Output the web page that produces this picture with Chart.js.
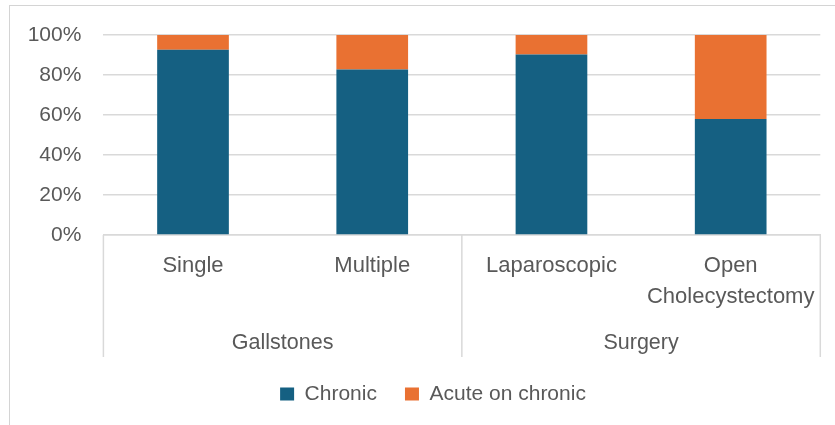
<!DOCTYPE html>
<html>
<head>
<meta charset="utf-8">
<script src="https://cdn.jsdelivr.net/npm/chart.js@4/dist/chart.umd.min.js"></script>
<style>
  html, body { margin: 0; padding: 0; background: #ffffff; overflow: hidden; width: 835px; height: 425px; }
  #frame { position: absolute; left: 9px; top: 5px; width: 846px; height: 440px; border: 1px solid #d4d4d4; background: #ffffff; }
  #frame canvas { display: block; }
</style>
</head>
<body>
<div id="frame"><canvas id="chart" width="846" height="440"></canvas></div>
<script>
// Sub-categories on the x axis, and the groups they belong to
const categories = ['Single', 'Multiple', 'Laparoscopic', ['Open', 'Cholecystectomy']];
const groupLabels = ['Gallstones', 'Surgery'];
const groupSizes = [2, 2];

// Share of cases (%) per category
const chronicValues = [92.6, 82.7, 90.2, 58.0];
const acuteValues = [7.4, 17.3, 9.8, 42.0];

const seriesNames = ['Chronic', 'Acute on chronic'];
const seriesColors = ['#156082', '#E97132'];

const yTicks = [0, 20, 40, 60, 80, 100];

const textColor = '#595959';
const lineColor = '#d9d9d9';
const fontFamily = '"Liberation Sans", Arial, sans-serif';

// Draws the group row under the category labels, with the separators
const groupAxisPlugin = {
  id: 'groupAxis',
  afterDraw(chart) {
    const ctx = chart.ctx;
    const x = chart.scales.x;
    const top = chart.chartArea.bottom;
    const bottom = top + 122;
    const labelY = top + 108;
    const half = (x.getPixelForValue(1) - x.getPixelForValue(0)) / 2;

    ctx.save();
    ctx.strokeStyle = lineColor;
    ctx.lineWidth = 1.5;
    let start = 0;
    const edges = [x.getPixelForValue(0) - half];
    groupSizes.forEach((size, g) => {
      const end = start + size - 1;
      const left = x.getPixelForValue(start) - half;
      const right = x.getPixelForValue(end) + half;
      edges.push(right);
      ctx.fillStyle = textColor;
      ctx.font = '21.5px ' + fontFamily;
      ctx.textAlign = 'center';
      ctx.textBaseline = 'middle';
      ctx.fillText(groupLabels[g], (left + right) / 2, labelY);
      start += size;
    });
    edges.forEach(px => {
      ctx.beginPath();
      ctx.moveTo(px, top);
      ctx.lineTo(px, bottom);
      ctx.stroke();
    });
    ctx.restore();
  }
};

new Chart(document.getElementById('chart'), {
  type: 'bar',
  data: {
    labels: categories,
    datasets: [
      { label: seriesNames[0], data: chronicValues, backgroundColor: seriesColors[0] },
      { label: seriesNames[1], data: acuteValues, backgroundColor: seriesColors[1] }
    ]
  },
  options: {
    responsive: false,
    animation: false,
    events: [],
    layout: { padding: { top: 29, left: 0, right: 0, bottom: 31.5 } },
    datasets: { bar: { categoryPercentage: 1, barPercentage: 0.4 } },
    scales: {
      x: {
        stacked: true,
        grid: { display: false, drawTicks: false },
        border: { display: true, color: lineColor, width: 1.5 },
        ticks: {
          color: textColor,
          font: { family: fontFamily, size: 22, lineHeight: 1.4 },
          padding: 16,
          maxRotation: 0,
          autoSkip: false
        },
        afterFit(scale) { scale.height = 120.5; }
      },
      y: {
        stacked: true,
        min: 0,
        max: 100,
        afterBuildTicks(scale) { scale.ticks = yTicks.map(v => ({ value: v })); },
        grid: { color: lineColor, lineWidth: 1.5, drawTicks: false },
        border: { display: false },
        ticks: {
          color: textColor,
          font: { family: fontFamily, size: 21 },
          padding: 22,
          callback: v => v + '%'
        },
        afterFit(scale) {
          scale.width = 93.4;
          scale.paddingTop = 0;
          scale.paddingBottom = 0;
        }
      },
      yRight: {
        position: 'right',
        display: true,
        grid: { display: false, drawTicks: false },
        border: { display: false },
        ticks: { display: false },
        afterFit(scale) { scale.width = 35.7; }
      }
    },
    plugins: {
      title: { display: false },
      tooltip: { enabled: false },
      legend: {
        position: 'bottom',
        labels: {
          color: textColor,
          font: { family: fontFamily, size: 21 },
          boxWidth: 14,
          boxHeight: 13,
          padding: 28
        }
      }
    }
  },
  plugins: [groupAxisPlugin]
});
</script>
</body>
</html>
